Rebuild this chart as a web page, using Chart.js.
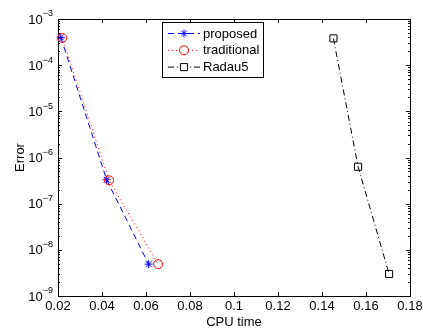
<!DOCTYPE html>
<html>
<head>
<meta charset="utf-8">
<script src="https://cdn.jsdelivr.net/npm/chart.js@4/dist/chart.umd.min.js"></script>
<style>
  body { margin: 0; background: #fff; }
  canvas { display: block; }
</style>
</head>
<body>
<canvas id="chart" width="423" height="329"></canvas>
<script>
// values
const seriesNames = ['proposed', 'traditional', 'Radau5'];
const proposedTime = [0.0213, 0.0421, 0.0612];
const proposedError = [4.0e-4, 3.3e-7, 4.9e-9];
const traditionalTime = [0.0219, 0.0432, 0.0655];
const traditionalError = [3.9e-4, 3.2e-7, 4.9e-9];
const radauTime = [0.1452, 0.1564, 0.1705];
const radauError = [3.8e-4, 6.3e-7, 3.0e-9];

const xTicks = [0.02, 0.04, 0.06, 0.08, 0.1, 0.12, 0.14, 0.16, 0.18];
const xTickLabels = ['0.02', '0.04', '0.06', '0.08', '0.1', '0.12', '0.14', '0.16', '0.18'];
const yTickExponents = [-3, -4, -5, -6, -7, -8, -9];
const xTitle = 'CPU time';
const yTitle = 'Error';

const FONT = 'Arial, "Liberation Sans", Helvetica, sans-serif';

const toPoints = (xs, ys) => xs.map((x, i) => ({ x: x, y: ys[i] }));

// axes box, ticks and labels, matlab style
const axesPlugin = {
  id: 'axesBox',
  beforeDatasetsDraw(chart) {
    const { ctx, chartArea: a, scales } = chart;
    const xs = scales.x, ys = scales.y;
    ctx.save();
    ctx.strokeStyle = '#000';
    ctx.lineWidth = 1;
    ctx.beginPath();
    // x ticks top and bottom
    xTicks.forEach(v => {
      const px = Math.round(xs.getPixelForValue(v)) + 0.5;
      ctx.moveTo(px, a.bottom); ctx.lineTo(px, a.bottom - 4);
      ctx.moveTo(px, a.top); ctx.lineTo(px, a.top + 4);
    });
    // y major + minor ticks left and right
    yTickExponents.forEach(e => {
      for (let m = 1; m <= 9; m++) {
        const v = m * Math.pow(10, e);
        if (v > ys.max * 1.0001 || v < ys.min * 0.9999) continue;
        const py = Math.round(ys.getPixelForValue(v)) + 0.5;
        const len = m === 1 ? 4 : 2;
        ctx.moveTo(a.left, py); ctx.lineTo(a.left + len, py);
        ctx.moveTo(a.right, py); ctx.lineTo(a.right - len, py);
      }
    });
    ctx.stroke();
    ctx.strokeRect(Math.round(a.left) + 0.5, Math.round(a.top) + 0.5,
      Math.round(a.right - a.left), Math.round(a.bottom - a.top));

    ctx.fillStyle = '#000';
    ctx.font = '13px ' + FONT;
    ctx.textAlign = 'center';
    ctx.textBaseline = 'top';
    xTicks.forEach((v, i) => {
      ctx.fillText(xTickLabels[i], xs.getPixelForValue(v), a.bottom + 4);
    });
    ctx.fillText(xTitle, (a.left + a.right) / 2, a.bottom + 11 + 9);

    yTickExponents.forEach(e => {
      const py = ys.getPixelForValue(Math.pow(10, e));
      const expText = '\u2212' + Math.abs(e);
      ctx.font = '9px ' + FONT;
      const ew = ctx.measureText(expText).width;
      ctx.textAlign = 'left';
      ctx.textBaseline = 'middle';
      const ex = a.left - 5 - ew;
      ctx.fillText(expText, ex, py - 5);
      ctx.font = '13px ' + FONT;
      ctx.textAlign = 'right';
      ctx.fillText('10', ex, py + 1);
    });

    ctx.translate(20, (a.top + a.bottom) / 2);
    ctx.rotate(-Math.PI / 2);
    ctx.textAlign = 'center';
    ctx.textBaseline = 'middle';
    ctx.font = '13px ' + FONT;
    ctx.fillText(yTitle, 0, 0);
    ctx.restore();
  },
  afterDraw(chart) {
    // legend box with line samples and markers
    const { ctx } = chart;
    const bx = 162.5, by = 22.5, bw = 101, bh = 55;
    ctx.save();
    ctx.fillStyle = '#fff';
    ctx.fillRect(bx, by, bw, bh);
    ctx.strokeStyle = '#000';
    ctx.lineWidth = 1;
    ctx.strokeRect(bx, by, bw, bh);
    chart.data.datasets.forEach((ds, i) => {
      const y = 33.5 + i * 16.8;
      ctx.strokeStyle = ds.borderColor;
      ctx.lineWidth = 1;
      ctx.setLineDash(ds.borderDash);
      ctx.beginPath();
      ctx.moveTo(168, y);
      ctx.lineTo(200, y);
      ctx.stroke();
      ctx.setLineDash([]);
      ctx.fillStyle = '#fff';
      Chart.helpers.drawPoint(ctx, {
        pointStyle: ds.pointStyle,
        radius: ds.pointRadius,
        borderWidth: 1,
        rotation: 0
      }, 184, y);
      ctx.fillStyle = '#000';
      ctx.font = '13px ' + FONT;
      ctx.textAlign = 'left';
      ctx.textBaseline = 'middle';
      ctx.fillText(ds.label, 203, y + 0.5);
    });
    ctx.restore();
  }
};

new Chart(document.getElementById('chart'), {
  type: 'line',
  data: {
    datasets: [
      {
        label: seriesNames[0],
        data: toPoints(proposedTime, proposedError),
        borderColor: '#0000ff',
        backgroundColor: '#0000ff',
        borderWidth: 1,
        borderDash: [6, 4],
        pointStyle: 'star',
        pointRadius: 4,
        pointBorderWidth: 1,
        order: 3
      },
      {
        label: seriesNames[1],
        data: toPoints(traditionalTime, traditionalError),
        borderColor: '#ff0000',
        backgroundColor: 'rgba(0,0,0,0)',
        borderWidth: 1,
        borderDash: [1, 3],
        pointStyle: 'circle',
        pointRadius: 4.5,
        pointBorderWidth: 1,
        order: 2
      },
      {
        label: seriesNames[2],
        data: toPoints(radauTime, radauError),
        borderColor: '#000000',
        backgroundColor: 'rgba(0,0,0,0)',
        borderWidth: 1,
        borderDash: [6, 3, 1, 3],
        pointStyle: 'rect',
        pointRadius: 5,
        pointBorderWidth: 1,
        order: 1
      }
    ]
  },
  options: {
    responsive: false,
    animation: false,
    events: [],
    clip: false,
    layout: { padding: { left: 58, top: 19, right: 13, bottom: 33 } },
    scales: {
      x: { type: 'linear', min: 0.02, max: 0.18, display: false },
      y: { type: 'logarithmic', min: 1e-9, max: 1e-3, display: false }
    },
    plugins: {
      legend: { display: false },
      tooltip: { enabled: false }
    }
  },
  plugins: [axesPlugin]
});
</script>
</body>
</html>
